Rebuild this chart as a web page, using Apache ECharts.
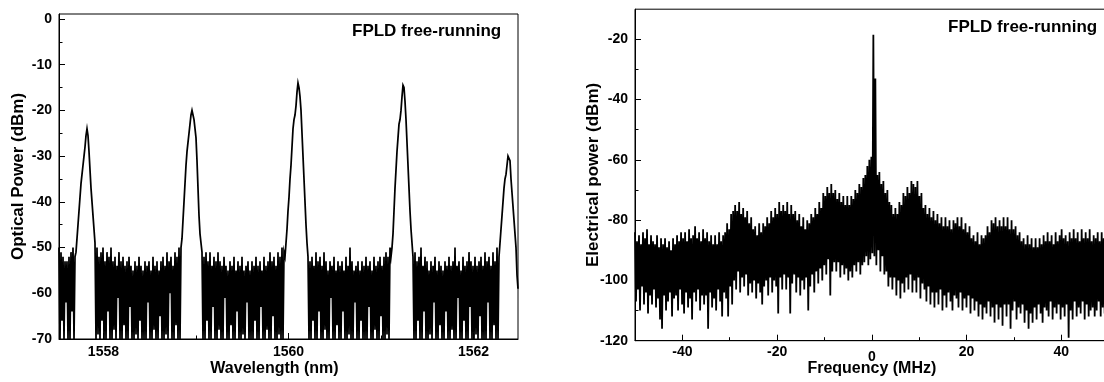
<!DOCTYPE html>
<html><head><meta charset="utf-8">
<script src="https://cdn.jsdelivr.net/npm/echarts@6/dist/echarts.min.js"></script>
<style>html,body{margin:0;padding:0;background:#fff}#c{width:1104px;height:382px}</style>
</head><body><div id="c"></div>
<script>
// ---- Left panel: optical spectrum (uniformly sampled) ----
const wavelengthStart = 1557.52;
const wavelengthEnd = 1562.48;
const opticalPower = [
-50,-70,-51,-66,-52,-70,-53,-62,-53,-70,
-52,-70,-51,-64,-50,-70,-52,-51,-48,-45,
-42,-39,-36,-34,-32,-30,-28,-25.5,-24,-25.5,
-29,-33,-37,-40,-43,-46,-49,-70,-50,-69,
-52,-70,-51,-66,-50,-70,-53,-70,-51,-64,
-52,-70,-50,-70,-53,-68,-52,-70,-54,-61,
-51,-70,-53,-70,-52,-67,-54,-70,-53,-70,
-52,-63,-54,-70,-55,-70,-53,-69,-54,-70,
-52,-66,-54,-70,-55,-70,-53,-70,-54,-62,
-53,-70,-55,-70,-52,-68,-54,-70,-53,-70,
-55,-65,-53,-70,-52,-70,-54,-69,-51,-70,
-53,-60,-52,-70,-54,-70,-51,-67,-52,-70,
-50,-70,-50,-48,-44,-40,-36,-32,-29,-27,
-25,-23,-21,-20,-21,-22,-24,-26,-31,-37,
-43,-47,-49,-51,-70,-52,-70,-51,-66,-53,
-70,-51,-70,-54,-63,-52,-70,-53,-70,-51,
-68,-53,-70,-54,-70,-52,-61,-54,-70,-55,
-70,-53,-67,-54,-70,-52,-70,-55,-64,-53,
-70,-54,-70,-52,-69,-55,-70,-54,-62,-53,
-70,-55,-70,-53,-70,-54,-66,-52,-70,-54,
-70,-53,-63,-55,-70,-52,-70,-54,-68,-53,
-70,-51,-70,-53,-65,-52,-70,-54,-70,-51,
-69,-52,-70,-50,-70,-51,-52,-49,-46,-42,
-39,-35,-32,-28,-24,-22,-21,-19,-16,-14,
-15,-17,-20,-25,-30,-35,-40,-45,-49,-52,
-70,-53,-70,-52,-66,-54,-70,-51,-70,-53,
-64,-52,-70,-54,-70,-51,-68,-53,-70,-55,
-70,-53,-61,-54,-70,-52,-70,-55,-67,-53,
-70,-54,-70,-53,-64,-55,-70,-52,-70,-54,
-69,-50,-70,-53,-70,-55,-62,-54,-70,-53,
-70,-55,-66,-53,-70,-54,-70,-52,-70,-54,
-63,-53,-70,-55,-70,-52,-68,-54,-70,-53,
-70,-52,-65,-54,-70,-52,-70,-51,-69,-52,
-70,-50,-52,-50,-47,-42,-37,-33,-29,-26,
-23,-22,-20,-17,-14.5,-15,-18,-22,-27,-32,
-37,-42,-46,-49,-52,-70,-51,-70,-53,-66,
-52,-70,-50,-70,-54,-64,-52,-70,-53,-70,
-55,-69,-53,-70,-54,-62,-52,-70,-55,-70,
-53,-67,-54,-70,-55,-70,-53,-64,-54,-70,
-52,-70,-54,-68,-53,-70,-50,-70,-54,-61,
-53,-70,-55,-70,-52,-66,-54,-70,-53,-70,
-51,-63,-53,-70,-54,-70,-52,-69,-54,-70,
-53,-65,-52,-70,-54,-70,-51,-70,-53,-62,
-52,-70,-54,-70,-51,-67,-53,-70,-50,-70,
-52,-49,-46,-43,-40,-37,-35,-34,-32,-30,
-29.6,-31,-35,-38,-41,-44,-47,-50,-56,-59
];
const wavelengthLabels = [1558, 1560, 1562];
const wavelengthMinorTicks = [1559, 1561];
const opticalYLabels = [-70, -60, -50, -40, -30, -20, -10, 0];
const opticalYMinorTicks = [-65, -55, -45, -35, -25, -15, -5];

// ---- Right panel: RF spectrum (uniformly sampled) ----
const frequencyStart = -50;
const frequencyEnd = 50;
const electricalPower = [
-84,-107,-87,-103,-85,-110,-88,-102,-84,-108,
-86,-104,-83,-111,-88,-105,-85,-108,-87,-103,
-88,-109,-85,-106,-89,-113,-86,-116,-88,-105,
-86,-110,-89,-107,-87,-104,-90,-112,-86,-106,
-88,-105,-85,-110,-87,-103,-84,-108,-86,-111,
-84,-104,-87,-109,-83,-106,-86,-113,-85,-104,
-82,-107,-86,-103,-84,-110,-87,-105,-83,-108,
-86,-105,-84,-116,-87,-104,-85,-109,-88,-106,
-85,-110,-88,-103,-84,-107,-87,-112,-85,-104,
-84,-106,-81,-112,-83,-102,-78,-108,-77,-100,
-75,-103,-77,-97,-74,-104,-78,-99,-76,-102,
-79,-98,-77,-105,-81,-101,-79,-104,-83,-100,
-82,-106,-85,-101,-81,-104,-84,-108,-81,-102,
-82,-100,-79,-105,-81,-99,-77,-104,-79,-100,
-76,-102,-78,-111,-74,-99,-77,-103,-75,-98,
-77,-103,-74,-99,-78,-111,-75,-101,-78,-98,
-77,-104,-80,-99,-78,-105,-82,-100,-79,-103,
-83,-99,-80,-110,-81,-102,-78,-98,-79,-104,
-76,-97,-78,-101,-74,-96,-76,-100,-71,-95,
-72,-98,-69,-93,-71,-105,-68,-97,-71,-94,
-70,-97,-73,-94,-71,-99,-74,-95,-72,-98,
-75,-96,-72,-100,-75,-97,-72,-99,-73,-95,
-70,-97,-71,-94,-68,-98,-69,-95,-66,-94,
-65,-92,-62,-95,-60,-93,-59,-91,-18.5,-92,
-33,-95,-65,-90,-64,-97,-68,-92,-67,-98,
-71,-97,-70,-102,-74,-99,-75,-103,-78,-99,
-76,-105,-78,-100,-74,-106,-75,-101,-71,-104,
-72,-99,-69,-103,-71,-98,-67,-104,-68,-100,
-69,-104,-67,-99,-72,-106,-71,-101,-76,-103,
-75,-107,-78,-102,-76,-108,-79,-104,-77,-109,
-80,-104,-78,-108,-81,-103,-79,-110,-82,-105,
-79,-109,-82,-104,-80,-107,-83,-110,-80,-105,
-81,-106,-79,-109,-82,-104,-79,-110,-83,-106,
-81,-109,-84,-105,-82,-111,-86,-106,-85,-110,
-87,-107,-84,-112,-88,-108,-85,-113,-86,-109,
-85,-111,-82,-107,-84,-112,-80,-109,-81,-114,
-79,-108,-82,-113,-80,-109,-82,-115,-79,-108,
-82,-112,-79,-108,-83,-116,-80,-110,-83,-107,
-82,-113,-85,-109,-84,-111,-87,-108,-86,-114,
-88,-110,-85,-116,-88,-111,-86,-114,-89,-109,
-86,-113,-89,-108,-86,-111,-88,-114,-85,-109,
-87,-110,-84,-112,-87,-107,-85,-113,-88,-109,
-84,-111,-87,-108,-85,-113,-83,-109,-86,-112,
-85,-108,-87,-119,-84,-110,-86,-113,-83,-107,
-86,-112,-84,-109,-87,-111,-83,-107,-86,-113,
-84,-108,-86,-112,-83,-110,-87,-109,-85,-112,
-86,-110,-84,-107,-87,-112,-84,-109,-86,-111,
-84,-108,-86,-110
];
const frequencyLabels = [-40, -20, 0, 20, 40];
const frequencyMinorTicks = [-30, -10, 10, 30];
const electricalYLabels = [-120, -100, -80, -60, -40, -20];
const electricalYMinorTicks = [-110, -90, -70, -50, -30];

const annotationText = 'FPLD free-running';
const opticalXName = 'Wavelength (nm)';
const opticalYName = 'Optical Power (dBm)';
const electricalXName = 'Frequency (MHz)';
const electricalYName = 'Electrical power (dBm)';

// ---- build ----
const FONT = "'Liberation Sans', Arial, Helvetica, sans-serif";
function sampled(start, end, values) {
  const n = values.length, step = (end - start) / (n - 1);
  return values.map((v, i) => [start + i * step, v]);
}
const lbl = {color:'#000', fontSize:14, fontWeight:'bold', fontFamily:FONT};
const nameStyle = {color:'#000', fontSize:16, fontWeight:'bold', fontFamily:FONT};
function axis(kind, grid, min, max, labels, major, extra, margin) {
  return Object.assign({
    type:'value', gridIndex:grid, min:min, max:max,
    position: kind === 'x' ? 'bottom' : 'left',
    nameMoveOverlap:false,
    axisLine:{show:true, onZero:false, lineStyle:{color:'#000', width:1}},
    axisTick:{show:true, inside:true, length: major ? 6 : 3.5, customValues: labels, lineStyle:{color:'#000', width:1}},
    axisLabel:major ? Object.assign({show:true, customValues: labels, margin: margin,
      formatter: function (v) { return String(v); }}, lbl) : {show:false},
    splitLine:{show:false}, minorTick:{show:false}
  }, extra || {});
}
const freqMajor = axis('x', 1, frequencyStart, frequencyEnd, frequencyLabels, true,
  {name:electricalXName, nameLocation:'middle', nameGap:19.5, nameTextStyle:nameStyle}, 4);
freqMajor.axisLabel.formatter = function (v) { return v === 0 ? '{z|0}' : String(v); };
freqMajor.axisLabel.rich = {z:{color:'#000', fontSize:14, fontWeight:'bold', fontFamily:FONT, padding:[5,0,0,0]}};

const chart = echarts.init(document.getElementById('c'), null, {renderer:'canvas'});
chart.setOption({
  animation:false,
  backgroundColor:'#fff',
  grid:[
    {left:59, top:14, width:459, height:325, show:true, borderColor:'#000', borderWidth:1,
     backgroundColor:'transparent', containLabel:false, outerBoundsMode:'none'},
    {left:635, top:9.2, width:473.7, height:331.5, show:true, borderColor:'#000', borderWidth:1,
     backgroundColor:'transparent', containLabel:false, outerBoundsMode:'none'}
  ],
  xAxis:[
    axis('x', 0, wavelengthStart, wavelengthEnd, wavelengthLabels, true,
      {name:opticalXName, nameLocation:'middle', nameGap:21.5, nameTextStyle:Object.assign({padding:[0,28,0,0]}, nameStyle)}, 6),
    axis('x', 0, wavelengthStart, wavelengthEnd, wavelengthMinorTicks, false, {axisLine:{show:false, onZero:false}}),
    freqMajor,
    axis('x', 1, frequencyStart, frequencyEnd, frequencyMinorTicks, false, {axisLine:{show:false, onZero:false}})
  ],
  yAxis:[
    axis('y', 0, -70, 1.09, opticalYLabels, true,
      {name:opticalYName, nameLocation:'middle', nameGap:32, nameTextStyle:Object.assign({}, nameStyle, {fontSize:17})}, 7),
    axis('y', 0, -70, 1.09, opticalYMinorTicks, false, {axisLine:{show:false, onZero:false}}),
    axis('y', 1, -120, -10, electricalYLabels, true,
      {name:electricalYName, nameLocation:'middle', nameGap:33, nameTextStyle:Object.assign({}, nameStyle, {fontSize:17})}, 7),
    axis('y', 1, -120, -10, electricalYMinorTicks, false, {axisLine:{show:false, onZero:false}})
  ],
  graphic:[
    {type:'text', left:352, top:23, style:{text:annotationText, fill:'#000', font:"bold 17px 'Liberation Sans', Arial, sans-serif"}},
    {type:'text', left:948, top:19, style:{text:annotationText, fill:'#000', font:"bold 17px 'Liberation Sans', Arial, sans-serif"}}
  ],
  series:[
    {type:'line', xAxisIndex:0, yAxisIndex:0, data:sampled(wavelengthStart, wavelengthEnd, opticalPower),
     showSymbol:false, symbol:'none', sampling:null, clip:true, silent:true, lineStyle:{color:'#000', width:1.75, join:'miter'}},
    {type:'line', xAxisIndex:2, yAxisIndex:2, data:sampled(frequencyStart, frequencyEnd, electricalPower),
     showSymbol:false, symbol:'none', sampling:null, clip:true, silent:true, lineStyle:{color:'#000', width:1.8, join:'miter'}}
  ]
});
</script></body></html>
